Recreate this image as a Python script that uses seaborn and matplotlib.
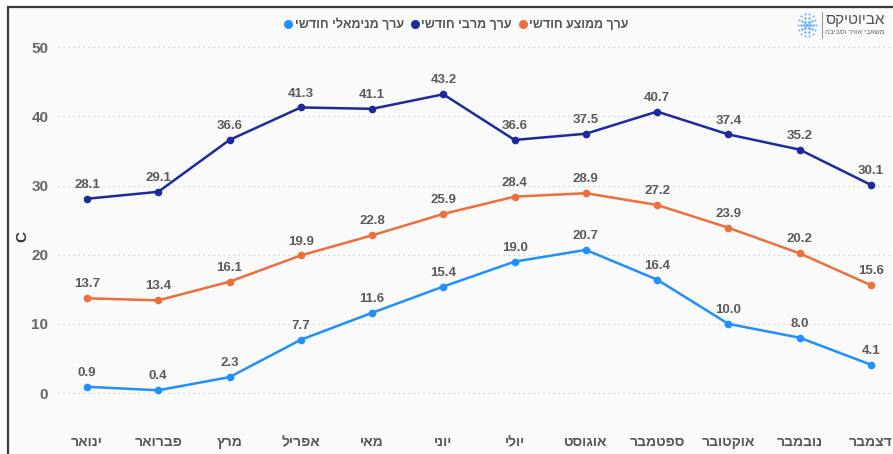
import numpy as np
import pandas as pd
import matplotlib
matplotlib.use("Agg")
import matplotlib.pyplot as plt
import seaborn as sns
from matplotlib.lines import Line2D
from matplotlib.patches import Rectangle

months = ["ינואר", "פברואר", "מרץ", "אפריל", "מאי", "יוני", "יולי",
          "אוגוסט", "ספטמבר", "אוקטובר", "נובמבר", "דצמבר"]
max_vals = [28.1, 29.1, 36.6, 41.3, 41.1, 43.2, 36.6, 37.5, 40.7, 37.4, 35.2, 30.1]
avg_vals = [13.7, 13.4, 16.1, 19.9, 22.8, 25.9, 28.4, 28.9, 27.2, 23.9, 20.2, 15.6]
min_vals = [0.9, 0.4, 2.3, 7.7, 11.6, 15.4, 19.0, 20.7, 16.4, 10.0, 8.0, 4.1]
series_names = ["ערך מנימאלי חודשי", "ערך מרבי חודשי", "ערך ממוצע חודשי"]
yticks = [0, 10, 20, 30, 40, 50]


def rtl(s):
    return s[::-1]


sns.set_theme(style="white")
FONT = ["Liberation Sans", "DejaVu Sans"]
plt.rcParams["font.family"] = FONT

W, H = 893, 454
fig = plt.figure(figsize=(W / 100, H / 100), dpi=100, facecolor="white")

# page frame
frame = Rectangle((8 / W, -0.01), 1 - 8 / W + 0.01, 1 - 7 / H + 0.01, transform=fig.transFigure,
                  facecolor="#fafafa", edgecolor="#3a3a3a", linewidth=1.6, zorder=-10)
fig.add_artist(frame)

ax = fig.add_axes([58 / W, 1 - 420 / H, (W - 58) / W, 390 / H])
ax.set_zorder(2)
ax.set_facecolor("none")
ax.patch.set_alpha(0)

colors = {"min": "#1e90ff", "max": "#1c2a9c", "avg": "#ec6f3c"}
x = np.arange(len(months))
data = [("min", min_vals), ("max", max_vals), ("avg", avg_vals)]
for key, vals in data:
    sns.lineplot(x=x, y=vals, ax=ax, color=colors[key], marker="o", markersize=5.5,
                 markeredgewidth=0, linewidth=1.8, zorder=3)
    for xi, v in zip(x, vals):
        ax.annotate(f"{v:.1f}", (xi, v), xytext=(0, 10), textcoords="offset points",
                    ha="center", va="center", fontsize=9.5, fontweight="bold",
                    color="#5a5a5a", zorder=4)

ax.set_ylim(-3.9, 52.5)
ax.set_xlim(-0.407, 11.31)
ax.set_yticks(yticks)
ax.set_yticklabels([str(t) for t in yticks], fontsize=11, fontweight="bold", color="#666666")
ax.set_xticks(x)
ax.set_xticklabels([rtl(m) for m in months], fontsize=10, fontweight="bold", color="#555555")
ax.tick_params(axis="y", length=0, pad=7)
ax.tick_params(axis="x", length=0, pad=11)
ax.grid(axis="y", linestyle=(0, (1, 3)), color="#c8c8c8", linewidth=0.9)
ax.grid(axis="x", visible=False)
for sp in ax.spines.values():
    sp.set_visible(False)
ax.set_xlabel("")
ax.set_ylabel("")
fig.text(22 / W, 1 - 237 / H, "C", rotation=90, ha="center", va="center",
         fontsize=11, fontweight="bold", color="#333333")

# legend
handles = [Line2D([], [], linestyle="none", marker="o", markersize=6.5, markeredgewidth=0,
                  color=colors[k]) for k in ["min", "max", "avg"]]
fig.legend(handles, [rtl(s) for s in series_names], loc="center",
           bbox_to_anchor=(456 / W, 1 - 25 / H), ncol=3, frameon=False,
           handletextpad=0.1, columnspacing=0.5, handlelength=0.8,
           prop={"family": FONT, "weight": "bold", "size": 9}, labelcolor="#555555")

# logo
lax = fig.add_axes([796 / W, 1 - 38 / H, 22 / W, 26 / H])
lax.set_zorder(3)
lax.set_axis_off()
for r, n in [(0, 1), (1, 6), (2, 10), (3, 14)]:
    ang = np.linspace(0, 2 * np.pi, n, endpoint=False) if n > 1 else np.array([0.0])
    lax.scatter(r * np.cos(ang), r * np.sin(ang), s=5 - r, color="#4aa3f0", alpha=0.85,
                linewidths=0)
lax.set_xlim(-3.5, 3.5)
lax.set_ylim(-3.5, 3.5)
fig.add_artist(Line2D([822 / W, 822 / W], [1 - 12 / H, 1 - 38 / H], color="#999999", linewidth=0.8))
fig.text(826 / W, 1 - 20 / H, rtl("אביוטיקס"), ha="left", va="center", fontsize=11,
         color="#555555")
fig.text(825 / W, 1 - 33 / H, rtl("משאבי אוויר וסביבה"), ha="left", va="center", fontsize=5,
         color="#666666")

fig.savefig("out.png", dpi=100, facecolor="white")
